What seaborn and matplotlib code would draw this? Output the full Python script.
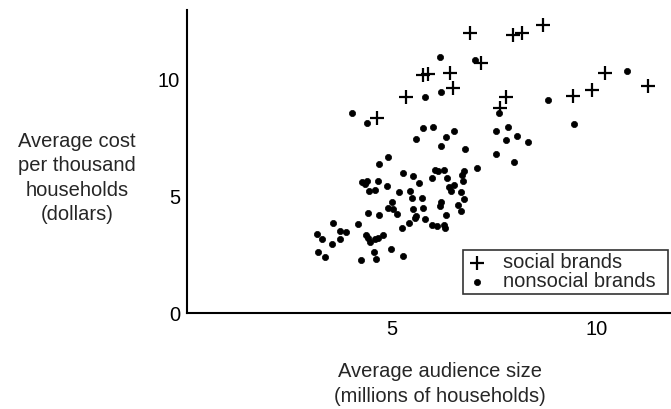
import pandas as pd
import matplotlib.pyplot as plt
import seaborn as sns

# marcas sociales (+)
social_x = [6.90, 7.95, 8.17, 8.68, 5.76, 5.88, 6.41, 6.49, 7.17, 5.34, 4.63,
            7.78, 7.63, 10.20, 9.88, 9.41, 11.24]
social_y = [12.02, 11.93, 12.02, 12.36, 10.21, 10.26, 10.30, 9.66, 10.73, 9.27, 8.37,
            9.27, 8.80, 10.30, 9.57, 9.31, 9.74]

# marcas no sociales (puntos)
nonsocial_x = [4.02, 4.38, 5.80, 5.76, 5.58, 4.91, 4.69, 5.28, 5.52, 6.17,
               7.02, 6.19, 8.80, 10.74, 9.45, 7.61, 5.99, 6.32, 6.50, 6.19,
               6.78, 7.53, 7.84, 7.78, 8.05, 8.31, 7.54, 7.98, 6.05, 6.13,
               6.27, 7.07, 6.76, 6.70, 5.97, 6.35, 6.74, 5.66, 4.26, 4.34,
               4.38, 4.65, 4.88, 4.45, 4.59, 5.18, 5.44, 6.40, 6.50, 6.43,
               6.68, 6.76, 4.99, 5.49, 5.72, 6.20, 6.17, 6.62, 6.69, 4.91,
               5.03, 5.52, 5.75, 4.42, 4.69, 5.13, 5.59, 5.57, 6.31, 5.80,
               3.55, 4.17, 5.41, 5.97, 6.10, 6.27, 6.30, 5.25, 3.73, 3.87,
               3.18, 3.30, 3.54, 3.73, 4.37, 4.42, 4.46, 4.59, 4.67, 4.77,
               3.19, 3.37, 4.56, 4.62, 4.24, 4.98, 5.28]
nonsocial_y = [8.57, 8.14, 9.28, 7.93, 7.46, 6.71, 6.39, 6.02, 5.88, 10.96,
               10.86, 9.50, 9.14, 10.36, 8.11, 8.57, 7.99, 7.57, 7.81, 7.18,
               7.05, 7.81, 7.97, 7.40, 7.60, 7.35, 6.82, 6.48, 6.14, 6.07,
               6.14, 6.21, 6.09, 5.92, 5.81, 5.77, 5.66, 5.56, 5.63, 5.53,
               5.66, 5.68, 5.45, 5.25, 5.28, 5.20, 5.25, 5.39, 5.49, 5.25,
               5.20, 4.89, 4.78, 4.95, 4.95, 4.78, 4.61, 4.64, 4.36, 4.49,
               4.46, 4.47, 4.51, 4.30, 4.19, 4.25, 4.16, 4.06, 4.19, 4.02,
               3.85, 3.82, 3.85, 3.78, 3.75, 3.78, 3.63, 3.63, 3.52, 3.47,
               3.38, 3.17, 2.98, 3.17, 3.36, 3.21, 3.03, 3.19, 3.21, 3.33,
               2.60, 2.39, 2.60, 2.32, 2.26, 2.73, 2.46]

x_ticks = [5, 10]
y_ticks = [0, 5, 10]

social = pd.DataFrame({"x": social_x, "y": social_y})
nonsocial = pd.DataFrame({"x": nonsocial_x, "y": nonsocial_y})

sns.set_style("white")
plt.rcParams["font.family"] = ["Liberation Sans", "DejaVu Sans"]
tam = 14.5

fig = plt.figure(figsize=(6.71, 4.09), dpi=100)
ax = fig.add_axes([0.2787, 0.2347, 0.754, 0.741])

sns.scatterplot(data=social, x="x", y="y", marker="+", s=110, color="black",
                linewidth=1.6, label="social brands", ax=ax)
sns.scatterplot(data=nonsocial, x="x", y="y", marker="o", s=20, color="black",
                edgecolor="black", linewidth=0.5, label="nonsocial brands", ax=ax)

ax.set_xlim(0, 12.34)
ax.set_ylim(0, 13)
ax.set_xticks(x_ticks)
ax.set_yticks(y_ticks)
ax.set_xlabel("")
ax.set_ylabel("")
ax.tick_params(direction="in", length=3, width=1, labelsize=tam, colors="black")
ax.tick_params(axis="x", pad=5)
ax.tick_params(axis="y", pad=5)
sns.despine(ax=ax)
for lado in ["left", "bottom"]:
    ax.spines[lado].set_color("black")
    ax.spines[lado].set_linewidth(1.5)

leg = ax.legend(loc="upper left",
                bbox_to_anchor=(463 / 671, 1 - 288 / 409, 205 / 671, 38 / 409),
                bbox_transform=fig.transFigure, mode="expand", fontsize=tam,
                frameon=True, fancybox=False, edgecolor="black", borderpad=0.15,
                handlelength=1.1, handletextpad=0.75, labelspacing=0.0,
                borderaxespad=0)
leg.get_frame().set_linewidth(1.2)

fig.text(77 / 671, 1 - 178 / 409, "Average cost\nper thousand\nhouseholds\n(dollars)",
         ha="center", va="center", fontsize=tam, linespacing=1.36)
fig.text(440 / 671, 1 - 384 / 409, "Average audience size\n(millions of households)",
         ha="center", va="center", fontsize=tam, linespacing=1.36)

plt.savefig("out.png", dpi=100)
plt.close()
